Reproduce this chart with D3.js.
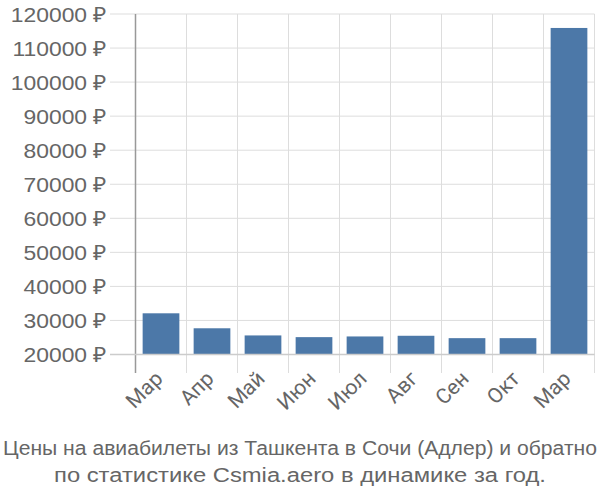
<!DOCTYPE html>
<html><head><meta charset="utf-8">
<script src="https://cdn.jsdelivr.net/npm/d3@7"></script>
<style>body{margin:0;background:#fff}svg{display:block}text{font-family:Roboto,"Liberation Sans",Arial,sans-serif;fill:#666}</style>
</head><body>
<svg id="c" width="600" height="500"></svg>
<script>
const categories = ["Мар","Апр","Май","Июн","Июл","Авг","Сен","Окт","Мар"];
const values = [32100, 27700, 25600, 25100, 25300, 25500, 24800, 24800, 115900];
const yTicks = [20000,30000,40000,50000,60000,70000,80000,90000,100000,110000,120000];
const titleLines = ["Цены на авиабилеты из Ташкента в Сочи (Адлер) и обратно","по статистике Csmia.aero в динамике за год."];

(function(){
const svg = d3.select("#c");
const pL = 135.5, pR = 594.5, pT = 14, pB = 354.5;
const x = d3.scaleBand().domain(d3.range(categories.length)).range([pL, pR]).paddingInner(0.28).paddingOuter(0.14);
const xg = d3.scaleBand().domain(d3.range(categories.length)).range([pL, pR]);
const y = d3.scaleLinear().domain([20000,120000]).range([pB, pT]);

svg.append("g").selectAll("line").data(yTicks).join("line")
  .attr("x1", 110).attr("x2", pR).attr("y1", d=>y(d)).attr("y2", d=>y(d))
  .attr("stroke", "#ddd").attr("stroke-width", 1);
const vx = d3.range(categories.length+1).map(i => pL + i*xg.step());
svg.append("g").selectAll("line").data(vx.slice(1)).join("line")
  .attr("x1", d=>d).attr("x2", d=>d).attr("y1", pT).attr("y2", 373)
  .attr("stroke", "#ddd").attr("stroke-width", 1);
svg.append("g").selectAll("rect").data(values).join("rect")
  .attr("x", (d,i)=>x(i)).attr("width", x.bandwidth())
  .attr("y", d=>y(d)).attr("height", d=>y(20000)-y(d))
  .attr("fill", "#4c78a8");
svg.append("line").attr("x1", pL).attr("x2", pL).attr("y1", pT).attr("y2", 373).attr("stroke", "#999").attr("stroke-width", 1.5);
svg.append("line").attr("x1", 110).attr("x2", pR).attr("y1", y(20000)).attr("y2", y(20000)).attr("stroke", "#ccc").attr("stroke-width", 1.5);
svg.append("g").selectAll("text").data(yTicks).join("text")
  .attr("transform", d => `translate(107,${y(d)}) scale(1.09,1)`)
  .attr("dy", "0.36em").attr("text-anchor", "end")
  .style("font-family", "'Liberation Sans'")
  .attr("font-size", 21).text(d => d + " ₽");
svg.append("g").selectAll("text").data(categories).join("text")
  .attr("transform", (d,i)=>`translate(${xg(i)+xg.bandwidth()/2+3},${380}) rotate(-45)`)
  .attr("text-anchor", "end").attr("font-size", 21).text(d=>d);
const tl = [594, 492];
svg.append("g").selectAll("text").data(titleLines).join("text")
  .attr("x", (d,i)=>300 - tl[i]/2).attr("y", (d,i)=>455+i*27)
  .attr("textLength", (d,i)=>tl[i]).attr("lengthAdjust", "spacingAndGlyphs")
  .style("font-family", "'Liberation Sans'")
  .attr("font-size", 20).text(d=>d);
})();
</script>
</body></html>
